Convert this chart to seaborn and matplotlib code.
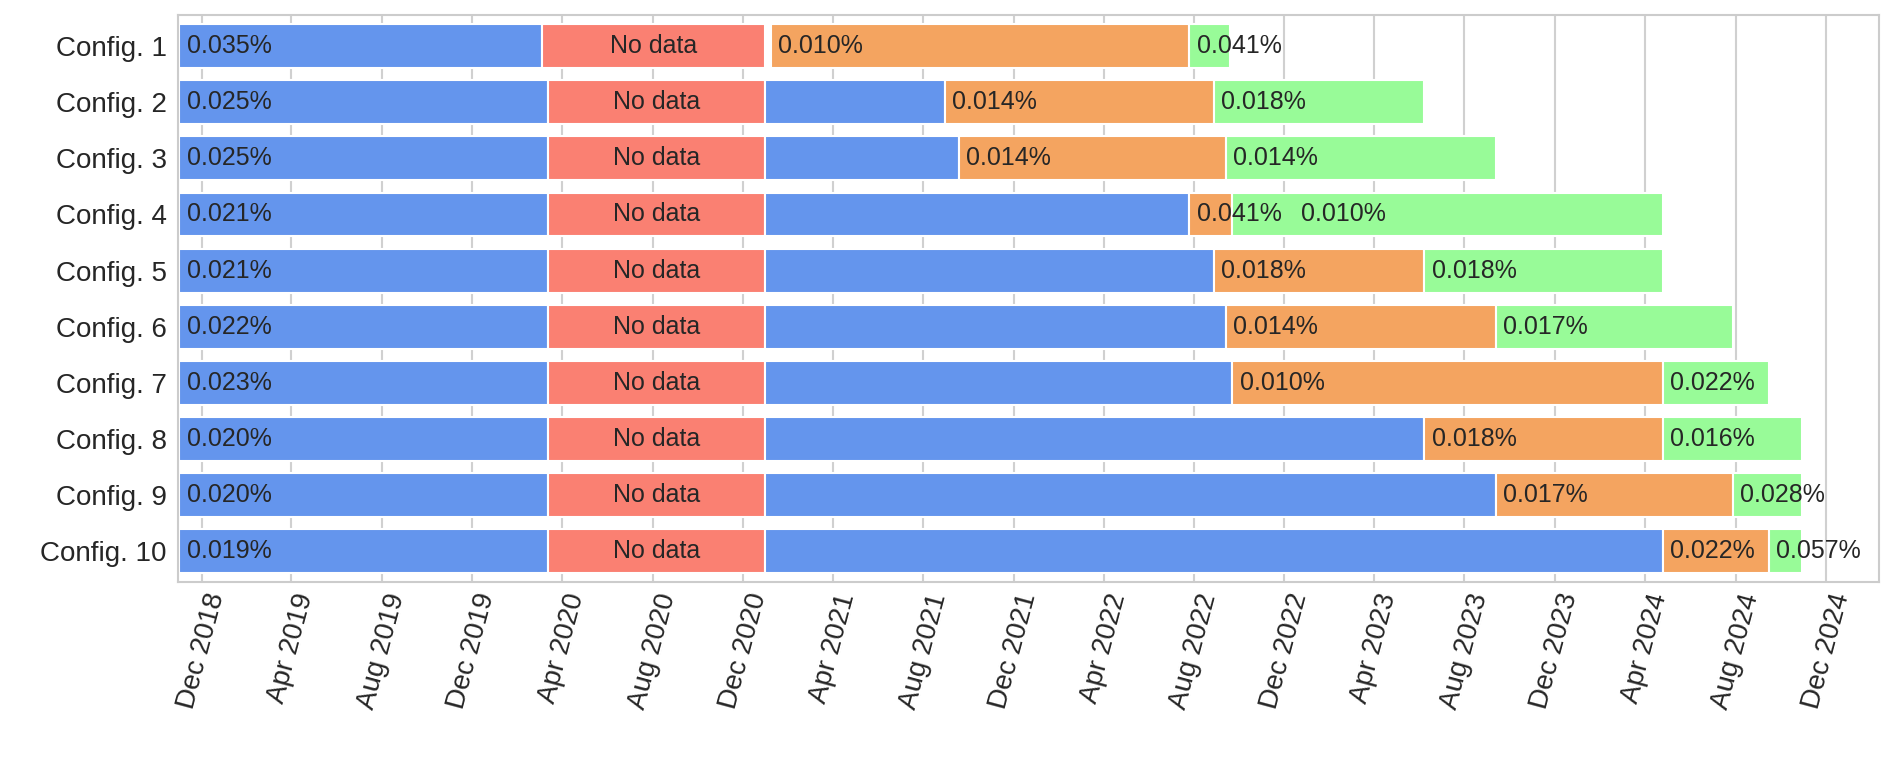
import matplotlib
matplotlib.use("Agg")
import matplotlib.pyplot as plt
import matplotlib.dates as mdates
import seaborn as sns
import pandas as pd

configs = [f"Config. {i}" for i in range(1, 11)]
start = "2018-11-01"
blue1_end = ["2020-03-04"] + ["2020-03-12"] * 9
nodata_end = ["2020-12-30"] * 10
blue2_end = ["2020-12-30", "2021-08-30", "2021-09-18", "2022-07-26", "2022-08-28",
             "2022-09-13", "2022-09-22", "2023-06-08", "2023-09-12", "2024-04-25"]
orange_start = ["2021-01-07"] + [None] * 9
orange_end = ["2022-07-26", "2022-08-28", "2022-09-13", "2022-09-22", "2023-06-08",
              "2023-09-12", "2024-04-25", "2024-04-25", "2024-07-28", "2024-09-15"]
green_end = ["2022-09-18", "2023-06-08", "2023-09-12", "2024-04-25", "2024-04-25",
             "2024-07-28", "2024-09-15", "2024-10-29", "2024-10-29", "2024-10-29"]
blue_labels = ["0.035%", "0.025%", "0.025%", "0.021%", "0.021%", "0.022%", "0.023%", "0.020%", "0.020%", "0.019%"]
orange_labels = ["0.010%", "0.014%", "0.014%", "0.041%", "0.018%", "0.014%", "0.010%", "0.018%", "0.017%", "0.022%"]
green_labels = ["0.041%", "0.018%", "0.014%", "0.010%", "0.018%", "0.017%", "0.022%", "0.016%", "0.028%", "0.057%"]

C_BLUE, C_RED, C_ORANGE, C_GREEN = "#6495ED", "#FA8072", "#F4A460", "#98FB98"

sns.set_style("whitegrid")
plt.rcParams['font.family'] = ['Liberation Sans', 'DejaVu Sans']
fig = plt.figure(figsize=(18.92, 7.61), dpi=100)
ax = fig.add_axes([0.094, 0.235, 0.899, 0.745])

d = lambda s: mdates.date2num(pd.Timestamp(s))
h = 0.78
off = 10  # days offset for labels
FS = 18
for i, c in enumerate(configs):
    s0 = d(start)
    b1 = d(blue1_end[i]); ne = d(nodata_end[i]); b2 = d(blue2_end[i])
    os_ = d(orange_start[i]) if orange_start[i] else b2
    oe = d(orange_end[i]); ge = d(green_end[i])
    ax.barh(i, b1 - s0, left=s0, height=h, color=C_BLUE, edgecolor="white", linewidth=1.5)
    ax.barh(i, ne - b1, left=b1, height=h, color=C_RED, edgecolor="white", linewidth=1.5)
    if b2 > ne:
        ax.barh(i, b2 - ne, left=ne, height=h, color=C_BLUE, edgecolor="white", linewidth=1.5)
    ax.barh(i, oe - os_, left=os_, height=h, color=C_ORANGE, edgecolor="white", linewidth=1.5)
    ax.barh(i, ge - oe, left=oe, height=h, color=C_GREEN, edgecolor="white", linewidth=1.5)
    ax.text(s0 + off, i, blue_labels[i], va="center", ha="left", fontsize=FS)
    ax.text((b1 + ne) / 2, i, "No data", va="center", ha="center", fontsize=FS)
    ax.text(os_ + off, i, orange_labels[i], va="center", ha="left", fontsize=FS)
    gx = max(oe + off, os_ + off + 140)
    ax.text(gx, i, green_labels[i], va="center", ha="left", fontsize=FS)

ax.set_yticks(range(len(configs)))
ax.set_yticklabels(configs, fontsize=20)
ax.set_ylim(len(configs) - 0.45, -0.55)
ax.set_xlim(d("2018-10-30"), d("2025-02-10"))
ax.xaxis.set_major_locator(mdates.MonthLocator(bymonth=[4, 8, 12], bymonthday=1))
ax.xaxis.set_major_formatter(mdates.DateFormatter("%b %Y"))
plt.setp(ax.get_xticklabels(), rotation=75, ha="center", fontsize=20)
ax.grid(axis="y", visible=False)
ax.grid(axis="x", color="#d0d0d0", linewidth=1.5)
ax.set_axisbelow(True)
ax.tick_params(axis="x", length=0, pad=6)
ax.tick_params(axis="y", length=0, pad=8)
for sp in ax.spines.values():
    sp.set_color("#cccccc"); sp.set_linewidth(1.5)
fig.savefig("out.png", dpi=100)
